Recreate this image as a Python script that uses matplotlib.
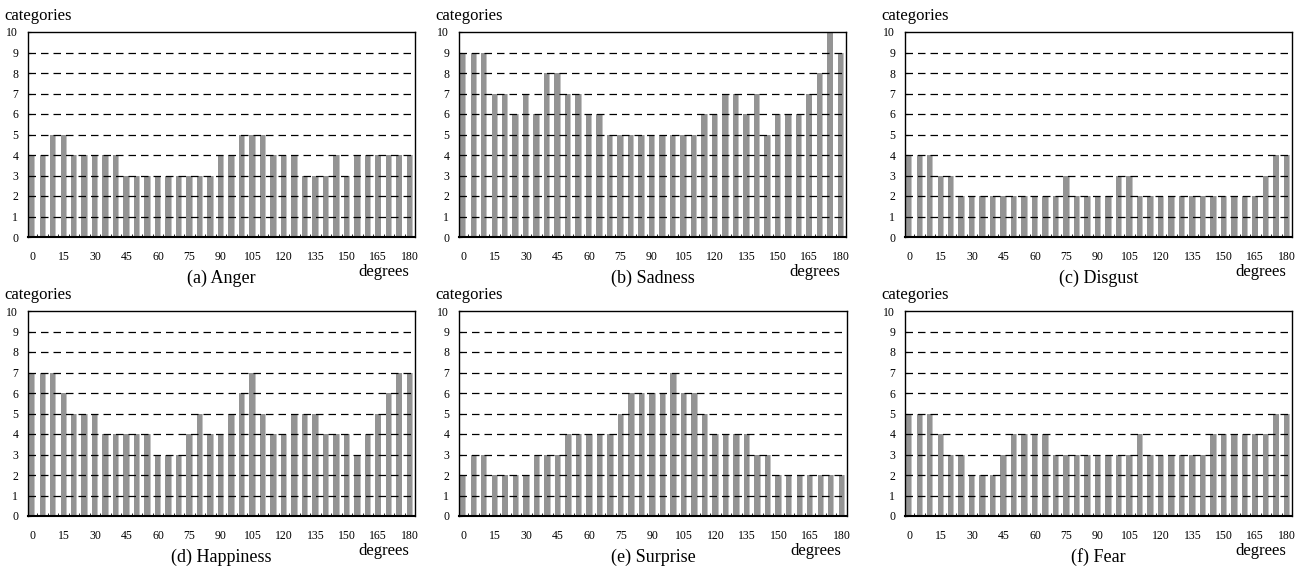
import numpy as np
import matplotlib
matplotlib.use("Agg")
import matplotlib.pyplot as plt

plt.rcParams["font.family"] = ["Liberation Serif", "DejaVu Serif"]

# angles of the bins (degrees)
degrees = list(range(0, 181, 5))
tick_degrees = list(range(0, 181, 15))

# number of categories per angle
anger = [4, 4, 5, 5, 4, 4, 4, 4, 4, 3, 3, 3, 3, 3, 3, 3, 3, 3, 4,
         4, 5, 5, 5, 4, 4, 4, 3, 3, 3, 4, 3, 4, 4, 4, 4, 4, 4]
sadness = [9, 9, 9, 7, 7, 6, 7, 6, 8, 8, 7, 7, 6, 6, 5, 5, 5, 5, 5,
           5, 5, 5, 5, 6, 6, 7, 7, 6, 7, 5, 6, 6, 6, 7, 8, 10, 9]
disgust = [4, 4, 4, 3, 3, 2, 2, 2, 2, 2, 2, 2, 2, 2, 2, 3, 2, 2, 2,
           2, 3, 3, 2, 2, 2, 2, 2, 2, 2, 2, 2, 2, 2, 2, 3, 4, 4]
happiness = [7, 7, 7, 6, 5, 5, 5, 4, 4, 4, 4, 4, 3, 3, 3, 4, 5, 4, 4,
             5, 6, 7, 5, 4, 4, 5, 5, 5, 4, 4, 4, 3, 4, 5, 6, 7, 7]
surprise = [2, 3, 3, 2, 2, 2, 2, 3, 3, 3, 4, 4, 4, 4, 4, 5, 6, 6, 6,
            6, 7, 6, 6, 5, 4, 4, 4, 4, 3, 3, 2, 2, 2, 2, 2, 2, 2]
fear = [5, 5, 5, 4, 3, 3, 2, 2, 2, 3, 4, 4, 4, 4, 3, 3, 3, 3, 3,
        3, 3, 3, 4, 3, 3, 3, 3, 3, 3, 4, 4, 4, 4, 4, 4, 5, 5]

panels = [
    ("(a) Anger", anger),
    ("(b) Sadness", sadness),
    ("(c) Disgust", disgust),
    ("(d) Happiness", happiness),
    ("(e) Surprise", surprise),
    ("(f) Fear", fear),
]

bar_gray = "#949494"
bar_light = "#c4c4c4"

W, H = 1305, 570
fig = plt.figure(figsize=(W / 100, H / 100), dpi=100)

# axes boxes in pixels
lefts = [[28, 459, 905], [28, 459, 905]]
rights = [[415, 846, 1292], [415, 847, 1292]]
tops = [32, 311]
bottoms = [237, 516]

for index, (title, values) in enumerate(panels):
    row, col = divmod(index, 3)
    l, r = lefts[row][col], rights[row][col]
    t, b = tops[row], bottoms[row]
    ax = fig.add_axes([l / W, 1 - b / H, (r - l) / W, (b - t) / H])

    x = np.array(degrees)
    ax.bar(x, values, width=3.0, color=bar_gray, linewidth=0, zorder=2)
    ax.bar(x + 1.3, values, width=0.45, color=bar_light, linewidth=0, zorder=2)

    # dashed grid drawn over the bars
    for level in range(1, 10):
        ax.axhline(level, color="black", linestyle=(0, (6, 4)), linewidth=0.9, zorder=3)

    ax.set_xlim(-2.0, 182.5)
    ax.set_ylim(0, 10)
    ax.set_yticks(range(0, 11))
    ax.set_xticks(tick_degrees)
    ax.set_xticks(np.arange(0, 182.5, 2.5), minor=True)
    ax.tick_params(axis="x", which="major", direction="in", length=3, pad=10, labelsize=8.5)
    ax.tick_params(axis="x", which="minor", direction="in", length=2)
    ax.tick_params(axis="y", direction="in", length=2, pad=7, labelsize=8.5)
    for spine in ax.spines.values():
        spine.set_linewidth(1.0)
        spine.set_zorder(4)
    ax.spines["bottom"].set_linewidth(1.5)

    ax.text(-0.06, 1.06, "categories", transform=ax.transAxes,
            fontsize=12, ha="left", va="baseline")
    ax.text(0.985, -0.19, "degrees", transform=ax.transAxes,
            fontsize=12, ha="right", va="baseline")
    ax.text(0.5, -0.225, title, transform=ax.transAxes,
            fontsize=13, ha="center", va="baseline")

fig.savefig("out.png", dpi=100)
